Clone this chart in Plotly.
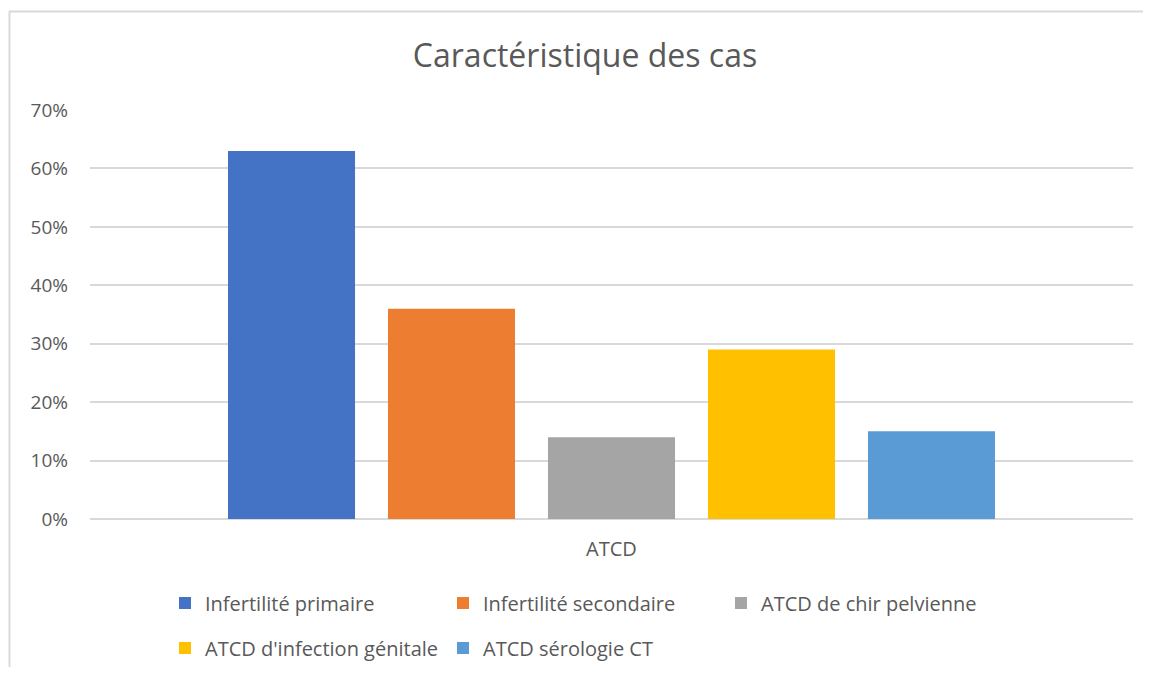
import plotly.graph_objects as go

categories = ["ATCD"]
series_names = [
    "Infertilité primaire",
    "Infertilité secondaire",
    "ATCD de chir pelvienne",
    "ATCD d'infection génitale",
    "ATCD sérologie CT",
]
series_values = [63, 36, 14, 29, 15]
series_colors = ["#4472C4", "#ED7D31", "#A5A5A5", "#FFC000", "#5B9BD5"]
legend_rows = ["legend", "legend", "legend", "legend2", "legend2"]
y_ticks = [0, 10, 20, 30, 40, 50, 60, 70]
y_tick_labels = [f"{v}%" for v in y_ticks]

FONT = "'Open Sans', Lato, sans-serif"
TXT = "#595959"

fig = go.Figure()
for name, val, col, lg in zip(series_names, series_values, series_colors, legend_rows):
    fig.add_trace(go.Bar(x=categories, y=[val], name=name, marker_color=col,
                         marker_line_width=0, legend=lg))

# page body has an 8px margin; work in page pixel coordinates
OFF = 8
W, H = 1151 - OFF, 675 - 2 * OFF
plot_l, plot_r, plot_t, plot_b = 90, 1133, 110, 519   # page px
ml = plot_l - OFF
mr = W - (plot_r - OFF)
mt = plot_t - OFF
mb = H - (plot_b - OFF)
pw = plot_r - plot_l
ph = plot_b - plot_t

def px_to_paper_x(px):
    return (px - plot_l) / pw

def px_to_paper_y(py):
    return (plot_b - py) / ph

leg_common = dict(orientation="h", xanchor="left", yanchor="middle",
                  entrywidth=233, entrywidthmode="pixels",
                  font=dict(size=20, color=TXT, family=FONT),
                  itemwidth=30, traceorder="normal", bgcolor="rgba(0,0,0,0)")

border = dict(color="#d9d9d9", width=2)

fig.update_layout(
    width=W, height=H,
    margin=dict(l=ml, r=mr, t=mt, b=mb, autoexpand=False),
    paper_bgcolor="white", plot_bgcolor="white",
    barmode="group", bargap=0.233, bargroupgap=0.206,
    font=dict(family=FONT, color=TXT, size=18),
    title=dict(text="Caractéristique des cas", x=(585 - OFF) / W, xanchor="center",
               y=1 - (56 - OFF) / H, yanchor="middle",
               font=dict(size=32, color=TXT, family=FONT)),
    showlegend=True,
    legend=dict(x=px_to_paper_x(165), y=px_to_paper_y(603), **leg_common),
    legend2=dict(x=px_to_paper_x(165), y=px_to_paper_y(648), **leg_common),
    xaxis=dict(showgrid=False, showline=False, zeroline=False,
               tickfont=dict(size=20, color=TXT), ticks="",
               ticklabelstandoff=16),
    yaxis=dict(range=[0, 70], tickvals=y_ticks, ticktext=y_tick_labels,
               showgrid=True, gridcolor="#d9d9d9", gridwidth=1.5,
               zeroline=True, zerolinecolor="#d9d9d9", zerolinewidth=1.5,
               showline=False, ticks="", tickfont=dict(size=19, color=TXT),
               ticklabelstandoff=21),
    shapes=[
        dict(type="line", xref="paper", yref="paper",
             x0=px_to_paper_x(9), x1=px_to_paper_x(1160),
             y0=px_to_paper_y(11.5), y1=px_to_paper_y(11.5),
             line=border, layer="below"),
        dict(type="line", xref="paper", yref="paper",
             x0=px_to_paper_x(9.5), x1=px_to_paper_x(9.5),
             y0=px_to_paper_y(11), y1=px_to_paper_y(700),
             line=border, layer="below"),
    ],
)

fig.write_html("out.html")
